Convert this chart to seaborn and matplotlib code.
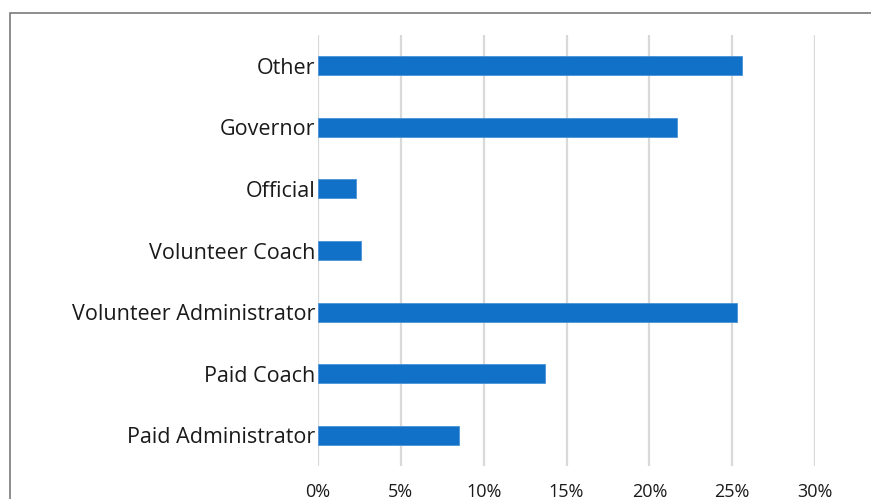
import matplotlib
matplotlib.use("Agg")
import matplotlib.pyplot as plt
from matplotlib.patches import Rectangle
import seaborn as sns
import pandas as pd

categories = ["Other", "Governor", "Official", "Volunteer Coach",
              "Volunteer Administrator", "Paid Coach", "Paid Administrator"]
values = [25.6, 21.7, 2.3, 2.6, 25.3, 13.7, 8.5]
tick_values = [0, 5, 10, 15, 20, 25, 30]
tick_labels = ["0%", "5%", "10%", "15%", "20%", "25%", "30%"]

sns.set_theme(style="white")
plt.rcParams["font.family"] = ["Open Sans", "DejaVu Sans"]

df = pd.DataFrame({"category": categories, "value": values})

fig = plt.figure(figsize=(8.71, 4.99), dpi=100)
W, H = 871, 499
ax = fig.add_axes([318 / W, 1 - 466 / H, (815 - 318) / W, (466 - 35) / H])

sns.barplot(data=df, y="category", x="value", order=categories,
            color="#1170c8", saturation=1, width=0.31, ax=ax,
            edgecolor="#4a92d6", linewidth=0.6)

ax.set_xlim(0, 30)
ax.set_ylim(6.5, -0.5)
ax.set_xticks(tick_values)
ax.set_xticklabels(tick_labels)
ax.set_xlabel("")
ax.set_ylabel("")
ax.grid(axis="x", color="#d9d9d9", linewidth=1.6)
ax.set_axisbelow(True)
for s in ax.spines.values():
    s.set_visible(False)
ax.tick_params(axis="x", length=0, pad=12, labelsize=13, labelcolor="#1a1a1a")
ax.tick_params(axis="y", length=0, pad=2, labelsize=15.5, labelcolor="#1a1a1a")

fig.patches.append(Rectangle((10 / W, -0.1), 1.2, 1 - 13 / H + 0.1,
                             transform=fig.transFigure, fill=False,
                             edgecolor="#7a7a7a", linewidth=1.2, clip_on=False))

fig.savefig("out.png", dpi=100)
